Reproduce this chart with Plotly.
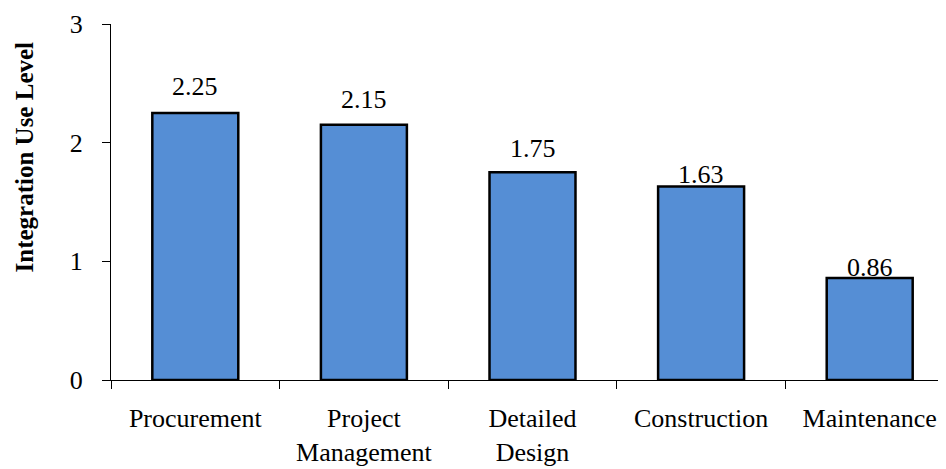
import plotly.graph_objects as go

categories = ["Procurement", "Project<br>Management", "Detailed<br>Design", "Construction", "Maintenance"]
values = [2.25, 2.15, 1.75, 1.63, 0.86]
value_labels = ["2.25", "2.15", "1.75", "1.63", "0.86"]
y_ticks = [0, 1, 2, 3]

# style: vertical offset (px) of each value label above its bar
label_shift = [10, 9, 7, -4, -6]

FONT = "Liberation Serif"
BAR = "#558ED5"

fig = go.Figure()
fig.add_trace(go.Bar(
    x=categories, y=values,
    marker=dict(color=BAR, line=dict(color="black", width=2.5)),
    showlegend=False, hoverinfo="skip",
))

for c, v, t, s in zip(categories, values, value_labels, label_shift):
    fig.add_annotation(x=c, y=v, text=t, showarrow=False, yanchor="bottom",
                       yshift=s, font=dict(family=FONT, size=26, color="black"))

fig.add_annotation(xref="paper", yref="paper", x=0, y=0.625, xanchor="center", yanchor="middle",
                   xshift=-87, textangle=-90, showarrow=False,
                   text="<b>Integration Use Level</b>",
                   font=dict(family=FONT, size=25, color="black"))

n = len(categories)
bounds = [i - 0.5 for i in range(n + 1)]

fig.update_layout(
    width=946, height=469,
    margin=dict(l=103, r=0, t=16, b=97, autoexpand=False),
    plot_bgcolor="white", paper_bgcolor="white",
    bargap=0.49,
    font=dict(family=FONT, size=26, color="black"),
    xaxis=dict(type="category", showline=True, linecolor="black", linewidth=1,
               ticks="outside", ticklen=8, tickcolor="black", tickwidth=1,
               tickson="boundaries", showgrid=False, zeroline=False, automargin=False,
               tickfont=dict(family=FONT, size=26, color="black"),
               ticklabelstandoff=15, ticklabeloverflow="allow"),
    yaxis=dict(range=[0, 3], tickvals=y_ticks, showline=True, linecolor="black", linewidth=1,
               ticks="outside", ticklen=8, tickcolor="black", tickwidth=1,
               showgrid=False, zeroline=False, automargin=False,
               tickfont=dict(family=FONT, size=26, color="black"),
               ticklabelstandoff=14, ticklabeloverflow="allow"),
    xaxis2=dict(overlaying="x", anchor="y", range=[-0.5, n - 0.5], tickvals=bounds,
                ticks="inside", ticklen=8, tickcolor="black", tickwidth=1, automargin=False,
                showticklabels=False, showline=False, showgrid=False, zeroline=False),
    yaxis2=dict(overlaying="y", anchor="x", range=[0, 3], tickvals=y_ticks,
                ticks="inside", ticklen=8, tickcolor="black", tickwidth=1, automargin=False,
                showticklabels=False, showline=False, showgrid=False, zeroline=False),
)

fig.write_html("out.html")
